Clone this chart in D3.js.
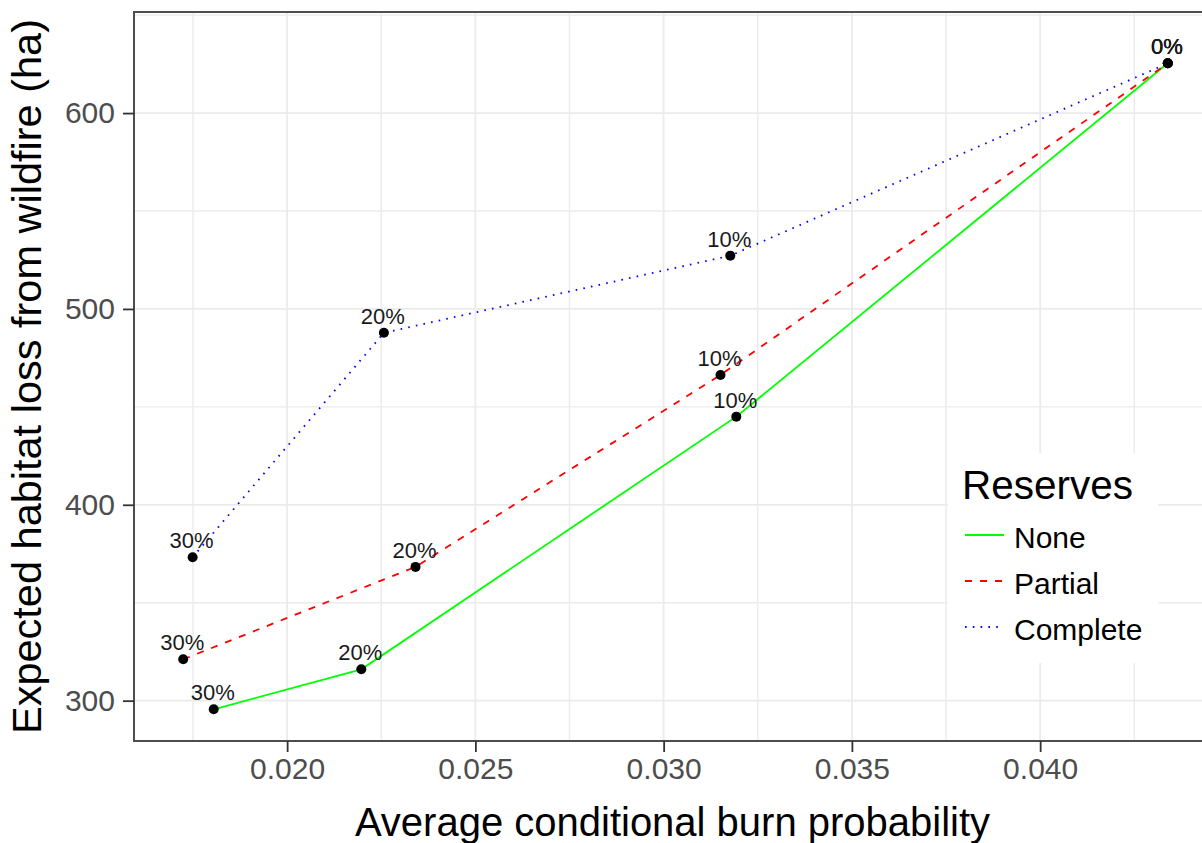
<!DOCTYPE html>
<html>
<head>
<meta charset="utf-8">
<script src="https://cdn.jsdelivr.net/npm/d3@7"></script>
<style>
  html, body { margin: 0; padding: 0; background: #ffffff; }
  svg { display: block; font-family: "Liberation Sans", Arial, sans-serif; }
</style>
</head>
<body>
<svg id="chart" width="1202" height="843"></svg>
<script>
// Reserve levels (share of landscape set aside) labelled at each point
const levels = ["30%", "20%", "10%", "0%"];

// Average conditional burn probability per reserve scenario
const burnNone     = [0.01805, 0.02197, 0.03193, 0.04339];
const burnPartial  = [0.01724, 0.02341, 0.03151, 0.04339];
const burnComplete = [0.01749, 0.02257, 0.03177, 0.04339];

// Expected habitat loss from wildfire (ha)
const lossNone     = [295.6, 316.0, 445.0, 625.4];
const lossPartial  = [321.1, 368.3, 466.3, 625.4];
const lossComplete = [373.2, 487.8, 527.2, 625.4];

const seriesNames = ["None", "Partial", "Complete"];

const xTicks = [0.020, 0.025, 0.030, 0.035, 0.040];
const xMinorTicks = [0.0175, 0.0225, 0.0275, 0.0325, 0.0375, 0.0425];
const yTicks = [300, 400, 500, 600];
const yMinorTicks = [350, 450, 550, 650];

const xLimits = [0.015933, 0.044697];
const yLimits = [279.4, 651.6];

const series = [
  { name: seriesNames[0], x: burnNone,     y: lossNone,     color: "#00ff00", dash: null,      width: 1.8 },
  { name: seriesNames[1], x: burnPartial,  y: lossPartial,  color: "#ff0000", dash: "7,8",     width: 1.8 },
  { name: seriesNames[2], x: burnComplete, y: lossComplete, color: "#0000ff", dash: "1.6,6.2", width: 1.8 }
];

const svg = d3.select("#chart");
const panel = { left: 134, right: 1217, top: 12, bottom: 741 };

const x = d3.scaleLinear().domain(xLimits).range([panel.left, panel.right]);
const y = d3.scaleLinear().domain(yLimits).range([panel.bottom, panel.top]);

svg.append("rect").attr("width", 1202).attr("height", 843).attr("fill", "#ffffff");

// Grid
const grid = svg.append("g");
grid.selectAll(".vminor").data(xMinorTicks).join("line")
  .attr("x1", d => x(d)).attr("x2", d => x(d))
  .attr("y1", panel.top).attr("y2", panel.bottom)
  .attr("stroke", "#ebebeb").attr("stroke-width", 1.4);
grid.selectAll(".hminor").data(yMinorTicks).join("line")
  .attr("x1", panel.left).attr("x2", panel.right)
  .attr("y1", d => y(d)).attr("y2", d => y(d))
  .attr("stroke", "#ebebeb").attr("stroke-width", 1.4);
grid.selectAll(".vmajor").data(xTicks).join("line")
  .attr("x1", d => x(d)).attr("x2", d => x(d))
  .attr("y1", panel.top).attr("y2", panel.bottom)
  .attr("stroke", "#ebebeb").attr("stroke-width", 1.8);
grid.selectAll(".hmajor").data(yTicks).join("line")
  .attr("x1", panel.left).attr("x2", panel.right)
  .attr("y1", d => y(d)).attr("y2", d => y(d))
  .attr("stroke", "#ebebeb").attr("stroke-width", 1.8);

// Lines
const line = d3.line().x(d => x(d[0])).y(d => y(d[1]));
series.forEach(s => {
  const pts = s.x.map((v, i) => [v, s.y[i]]);
  svg.append("path")
    .datum(pts)
    .attr("d", line)
    .attr("fill", "none")
    .attr("stroke", s.color)
    .attr("stroke-width", s.width)
    .attr("stroke-dasharray", s.dash);
});

// Points and percentage labels
series.forEach(s => {
  const pts = s.x.map((v, i) => ({ x: v, y: s.y[i], label: levels[i] }));
  svg.append("g").selectAll("circle").data(pts).join("circle")
    .attr("cx", d => x(d.x)).attr("cy", d => y(d.y))
    .attr("r", 5).attr("fill", "#000000");
  svg.append("g").selectAll("text").data(pts).join("text")
    .attr("x", d => x(d.x) - 1).attr("y", d => y(d.y) - 9)
    .attr("text-anchor", "middle")
    .attr("font-size", 22)
    .attr("fill", "#1a1a1a")
    .text(d => d.label);
});

// Panel border
svg.append("rect")
  .attr("x", panel.left).attr("y", panel.top)
  .attr("width", panel.right - panel.left).attr("height", panel.bottom - panel.top)
  .attr("fill", "none").attr("stroke", "#4d4d4d").attr("stroke-width", 2);

// Axes
const xAxis = svg.append("g")
  .attr("transform", `translate(0,${panel.bottom})`)
  .call(d3.axisBottom(x).tickValues(xTicks).tickFormat(d3.format(".3f")).tickSizeInner(11).tickSizeOuter(0).tickPadding(6));
const yAxis = svg.append("g")
  .attr("transform", `translate(${panel.left},0)`)
  .call(d3.axisLeft(y).tickValues(yTicks).tickFormat(d3.format("d")).tickSizeInner(11).tickSizeOuter(0).tickPadding(8));
[xAxis, yAxis].forEach(a => {
  a.select(".domain").remove();
  a.selectAll(".tick line").attr("stroke", "#333333").attr("stroke-width", 1.8);
  a.selectAll(".tick text")
    .attr("font-family", "Liberation Sans, Arial, sans-serif")
    .attr("font-size", 30)
    .attr("fill", "#4d4d4d");
});

// Axis titles
svg.append("text")
  .attr("x", (panel.left + panel.right) / 2 - 3).attr("y", 836)
  .attr("text-anchor", "middle")
  .attr("font-size", 40)
  .attr("fill", "#000000")
  .text("Average conditional burn probability");
svg.append("text")
  .attr("transform", `translate(41,${(panel.top + panel.bottom) / 2}) rotate(-90)`)
  .attr("text-anchor", "middle")
  .attr("font-size", 41.5)
  .attr("fill", "#000000")
  .text("Expected habitat loss from wildfire (ha)");

// Legend
const legend = svg.append("g");
legend.append("rect")
  .attr("x", 948).attr("y", 453).attr("width", 210).attr("height", 210)
  .attr("fill", "#ffffff");
legend.append("text")
  .attr("x", 962).attr("y", 499)
  .attr("font-size", 40.5).attr("fill", "#000000")
  .text("Reserves");
const legendBaselines = [548, 594, 640];
series.forEach((s, i) => {
  const by = legendBaselines[i];
  legend.append("line")
    .attr("x1", 965).attr("x2", 1004)
    .attr("y1", by - 13).attr("y2", by - 13)
    .attr("stroke", s.color).attr("stroke-width", s.width)
    .attr("stroke-dasharray", s.dash);
  legend.append("text")
    .attr("x", 1014).attr("y", by)
    .attr("font-size", 30).attr("fill", "#000000")
    .text(s.name);
});
</script>
</body>
</html>
